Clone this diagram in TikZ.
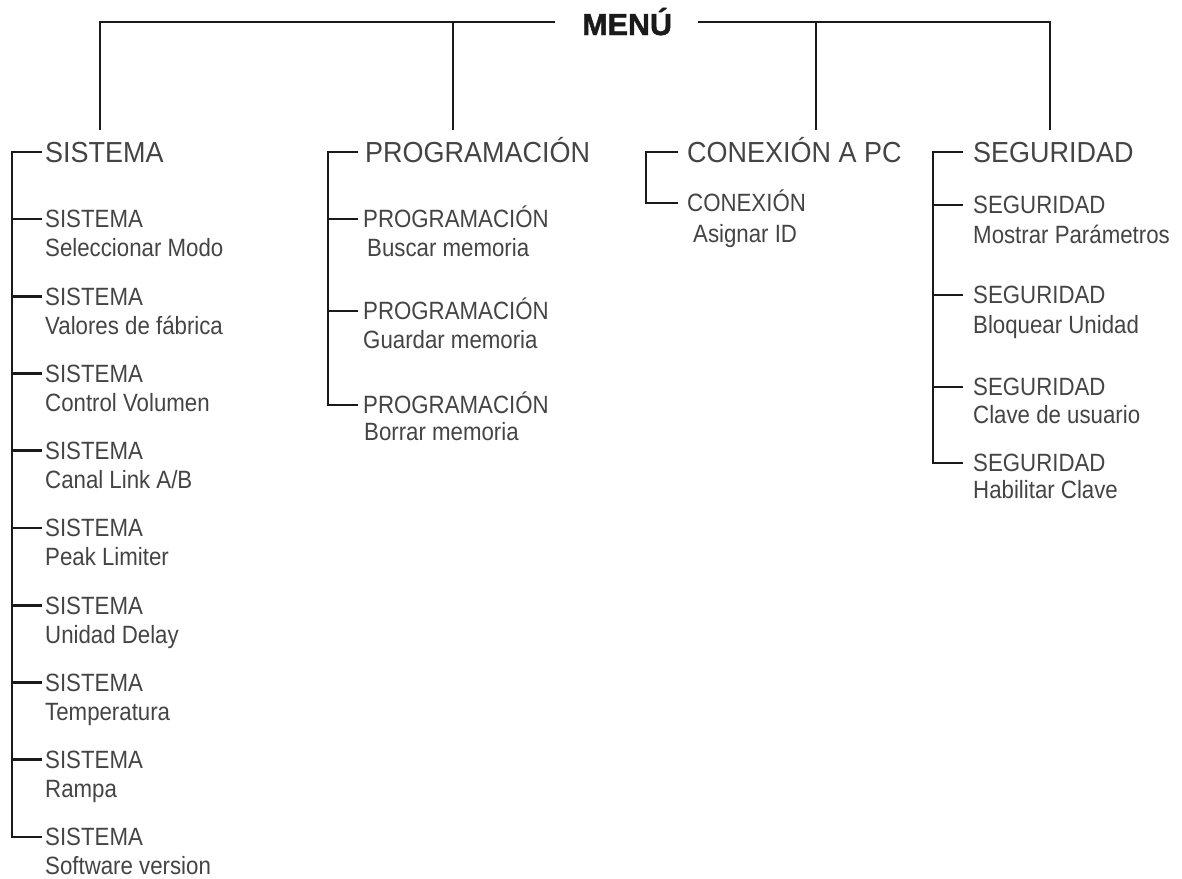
\documentclass[tikz,border=0pt]{standalone}
\usepackage{fontspec}
\setmainfont{Liberation Sans}
\newfontfamily\chfont{Liberation Sans}[FakeStretch=0.89]
\newfontfamily\hdfont{Liberation Sans}[FakeStretch=0.93]
\newfontfamily\mnfont{Liberation Sans}[BoldFeatures={FakeBold=1.6}]
\definecolor{linec}{HTML}{1A1A1A}
\definecolor{txt}{HTML}{444444}
\tikzset{
  ln/.style={line width=2.7pt, draw=linec, line join=miter, line cap=butt},
  hd/.style={anchor=west, inner sep=0pt, text height=20.8pt, text depth=0pt, font=\hdfont\fontsize{29}{32}\selectfont, text=txt},
  ch/.style={anchor=west, inner sep=0pt, text height=17.9pt, text depth=0pt, font=\chfont\fontsize{25}{28}\selectfont, text=txt},
  sub/.style={anchor=base west, inner sep=0pt, font=\chfont\fontsize{25}{28}\selectfont, text=txt},
  menustyle/.style={anchor=west, inner sep=0pt, text height=22pt, text depth=0pt, font=\mnfont\bfseries\fontsize{30.5}{33}\selectfont, text=linec}
}
\begin{document}
\begin{tikzpicture}[x=1pt,y=-1pt]
\useasboundingbox (0,0) rectangle (1182,878);

% ---- title and top bar
\node[menustyle] (menu) at (582,24) {MENÚ};
\coordinate (barL) at (555,22);
\coordinate (barR) at (698,22);
\coordinate (a1) at (100,130);
\coordinate (a2) at (453,130);
\coordinate (a3) at (816,130);
\coordinate (a4) at (1050,130);
\draw[ln] (a1) |- (barL);
\draw[ln] (a2) -- (a2 |- barL);
\draw[ln] (barR) -| (a4);
\draw[ln] (a3) -- (a3 |- barR);

% ---- SISTEMA
\node[hd] (sH) at (45,152) {SISTEMA};
\node[ch] (s1) at (45,219) {SISTEMA};
\node[sub] (s1b) at ([yshift=-29pt]s1.base west) {Seleccionar Modo};
\node[ch] (s2) at (45,296.25) {SISTEMA};
\node[sub] (s2b) at ([yshift=-29pt]s2.base west) {Valores de fábrica};
\node[ch] (s3) at (45,373.5) {SISTEMA};
\node[sub] (s3b) at ([yshift=-29pt]s3.base west) {Control Volumen};
\node[ch] (s4) at (45,450.75) {SISTEMA};
\node[sub] (s4b) at ([yshift=-29pt]s4.base west) {Canal Link A/B};
\node[ch] (s5) at (45,528) {SISTEMA};
\node[sub] (s5b) at ([yshift=-29pt]s5.base west) {Peak Limiter};
\node[ch] (s6) at (45,605.25) {SISTEMA};
\node[sub] (s6b) at ([yshift=-29pt]s6.base west) {Unidad Delay};
\node[ch] (s7) at (45,682.5) {SISTEMA};
\node[sub] (s7b) at ([yshift=-29pt]s7.base west) {Temperatura};
\node[ch] (s8) at (45,759.75) {SISTEMA};
\node[sub] (s8b) at ([yshift=-29pt]s8.base west) {Rampa};
\node[ch] (s9) at (45,837) {SISTEMA};
\node[sub] (s9b) at ([yshift=-29pt]s9.base west) {Software version};
\coordinate (sbot) at (12,837);
\draw[ln] ([xshift=-3pt]sH.west) -| (sbot) -- ([xshift=-3pt]s9.west);
\foreach \n in {s1,s2,s3,s4,s5,s6,s7,s8}
  \draw[ln] (\n.west -| sbot) -- ([xshift=-3pt]\n.west);

% ---- PROGRAMACIÓN
\node[hd] (pH) at (365,152) {PROGRAMACIÓN};
\node[ch] (p1) at (363,219) {PROGRAMACIÓN};
\node[sub] (p1b) at ([xshift=4pt,yshift=-29pt]p1.base west) {Buscar memoria};
\node[ch] (p2) at (363,311) {PROGRAMACIÓN};
\node[sub] (p2b) at ([yshift=-29pt]p2.base west) {Guardar memoria};
\node[ch] (p3) at (363,405) {PROGRAMACIÓN};
\node[sub] (p3b) at ([xshift=1pt,yshift=-27pt]p3.base west) {Borrar memoria};
\coordinate (pbot) at (328,405);
\draw[ln] ([xshift=-7pt]pH.west) -| (pbot) -- ([xshift=-5pt]p3.west);
\foreach \n in {p1,p2}
  \draw[ln] (\n.west -| pbot) -- ([xshift=-5pt]\n.west);

% ---- CONEXIÓN A PC
\node[hd] (cH) at (687,152) {CONEXIÓN A PC};
\node[ch] (c1) at (687,203) {CONEXIÓN};
\node[sub] (c1b) at ([xshift=6pt,yshift=-31pt]c1.base west) {Asignar ID};
\coordinate (cbot) at (646,203);
\draw[ln] ([xshift=-9pt]cH.west) -| (cbot) -- ([xshift=-9pt]c1.west);

% ---- SEGURIDAD
\node[hd] (gH) at (973,152) {SEGURIDAD};
\node[ch] (g1) at (973,205) {SEGURIDAD};
\node[sub] (g1b) at ([yshift=-30pt]g1.base west) {Mostrar Parámetros};
\node[ch] (g2) at (973,295) {SEGURIDAD};
\node[sub] (g2b) at ([yshift=-30pt]g2.base west) {Bloquear Unidad};
\node[ch] (g3) at (973,387) {SEGURIDAD};
\node[sub] (g3b) at ([yshift=-28pt]g3.base west) {Clave de usuario};
\node[ch] (g4) at (973,463) {SEGURIDAD};
\node[sub] (g4b) at ([yshift=-27pt]g4.base west) {Habilitar Clave};
\coordinate (gbot) at (933,463);
\draw[ln] ([xshift=-10pt]gH.west) -| (gbot) -- ([xshift=-10pt]g4.west);
\foreach \n in {g1,g2,g3}
  \draw[ln] (\n.west -| gbot) -- ([xshift=-10pt]\n.west);
\end{tikzpicture}
\end{document}
